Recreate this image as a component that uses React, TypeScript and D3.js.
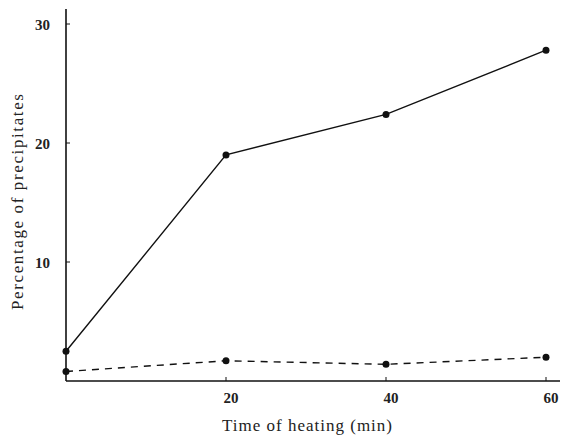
import React, { useEffect, useRef } from 'react'
import * as d3 from 'd3'

const times = [0, 20, 40, 60]
const heated = [2.5, 19.0, 22.4, 27.8]
const control = [0.8, 1.7, 1.4, 2.0]
const xTicks = [20, 40, 60]
const yTicks = [10, 20, 30]

const W = 562
const H = 436

export default function App() {
  const ref = useRef<SVGSVGElement>(null)

  useEffect(() => {
    const svg = d3.select(ref.current)
    svg.selectAll('*').remove()

    const x = d3.scaleLinear().domain([0, 60]).range([66, 546])
    const y = d3.scaleLinear().domain([0, 30]).range([381, 24])
    const font = '"Liberation Serif", "DejaVu Serif", serif'

    // axes drawn by hand, like the old paper figure
    svg.append('line')
      .attr('x1', 66).attr('x2', 66)
      .attr('y1', 9).attr('y2', 381)
      .attr('stroke', '#111').attr('stroke-width', 1.6)
    svg.append('line')
      .attr('x1', 66).attr('x2', 560)
      .attr('y1', 381).attr('y2', 381)
      .attr('stroke', '#111').attr('stroke-width', 1.6)

    svg.selectAll('.yt')
      .data(yTicks)
      .enter()
      .append('line')
      .attr('x1', 66).attr('x2', 70)
      .attr('y1', d => y(d)).attr('y2', d => y(d))
      .attr('stroke', '#111')

    svg.selectAll('.ytl')
      .data(yTicks)
      .enter()
      .append('text')
      .attr('x', 50)
      .attr('y', d => y(d) + 6)
      .attr('text-anchor', 'end')
      .attr('font-family', font)
      .attr('font-weight', 'bold')
      .attr('font-size', 15)
      .attr('fill', '#222')
      .text(d => d)

    svg.selectAll('.xt')
      .data(xTicks)
      .enter()
      .append('line')
      .attr('x1', d => x(d)).attr('x2', d => x(d))
      .attr('y1', 381).attr('y2', 377)
      .attr('stroke', '#111')

    svg.selectAll('.xtl')
      .data(xTicks)
      .enter()
      .append('text')
      .attr('x', d => x(d) + 5)
      .attr('y', 403)
      .attr('text-anchor', 'middle')
      .attr('font-family', font)
      .attr('font-weight', 'bold')
      .attr('font-size', 15)
      .attr('fill', '#222')
      .text(d => d)

    svg.append('text')
      .attr('x', 222).attr('y', 431)
      .attr('font-family', font)
      .attr('font-size', 17)
      .attr('fill', '#222')
      .attr('textLength', 170)
      .attr('lengthAdjust', 'spacing')
      .text('Time of heating (min)')

    svg.append('text')
      .attr('transform', 'translate(23,310) rotate(-90)')
      .attr('font-family', font)
      .attr('font-size', 17)
      .attr('fill', '#222')
      .attr('textLength', 216)
      .attr('lengthAdjust', 'spacing')
      .text('Percentage of precipitates')

    const line = d3.line<[number, number]>()
      .x(d => x(d[0]))
      .y(d => y(d[1]))

    const series = [
      { values: heated, dash: null },
      { values: control, dash: '7,6' },
    ]

    series.forEach(s => {
      const pts = times.map((t, i) => [t, s.values[i]] as [number, number])
      svg.append('path')
        .attr('d', line(pts))
        .attr('fill', 'none')
        .attr('stroke', '#111')
        .attr('stroke-width', 1.4)
        .attr('stroke-dasharray', s.dash)
      svg.selectAll(null)
        .data(pts)
        .enter()
        .append('circle')
        .attr('cx', d => x(d[0]))
        .attr('cy', d => y(d[1]))
        .attr('r', 3.5)
        .attr('fill', '#111')
    })
  }, [])

  return (
    <svg
      ref={ref}
      width={W}
      height={H}
      style={{ position: 'absolute', left: 0, top: 0, background: '#fff' }}
    />
  )
}
